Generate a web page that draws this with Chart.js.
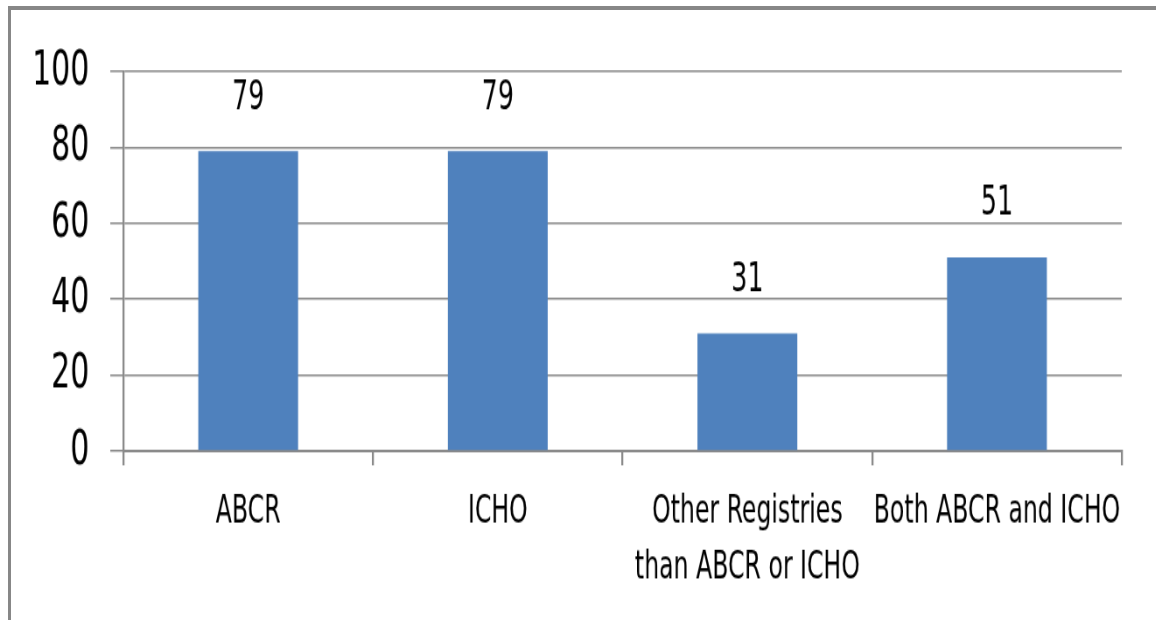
<!DOCTYPE html>
<html>
<head>
<meta charset="utf-8">
<script src="https://cdn.jsdelivr.net/npm/chart.js@4"></script>
<style>
  html, body { margin: 0; padding: 0; background: #fff; overflow: hidden; }
  #wrap { position: absolute; left: 0; top: 0; width: 1321px; height: 477px;
          transform-origin: 0 0; transform: scale(0.875, 1.2998); }
  #frame { position: absolute; left: 8px; top: 6px; width: 1200px; height: 700px;
           border-left: 3px solid #878787; border-top: 4px solid #878787; }
</style>
</head>
<body>
<div id="wrap"><canvas id="chart" width="1321" height="477" style="width:1321px;height:477px"></canvas></div>
<div id="frame"></div>
<script>
const categories = ['ABCR', 'ICHO', ['Other Registries', 'than ABCR or ICHO'], 'Both ABCR and ICHO'];
const values = [79, 79, 31, 51];
const yTicks = [0, 20, 40, 60, 80, 100];

const FONT = '"Liberation Sans Narrow", "DejaVu Sans Condensed", "Liberation Sans", sans-serif';

// 在長條上方畫數值
const valueLabels = {
    id: 'valueLabels',
    afterDatasetsDraw(chart) {
        const ctx = chart.ctx;
        const meta = chart.getDatasetMeta(0);
        ctx.save();
        ctx.font = '32px ' + FONT;
        ctx.fillStyle = '#000';
        ctx.textAlign = 'center';
        ctx.textBaseline = 'middle';
        meta.data.forEach((bar, i) => {
            ctx.fillText(String(values[i]), bar.x, bar.y - 41);
        });
        ctx.restore();
    }
};

new Chart(document.getElementById('chart').getContext('2d'), {
    type: 'bar',
    data: {
        labels: categories,
        datasets: [{
            data: values,
            backgroundColor: '#4f81bd',
            borderWidth: 0,
            barPercentage: 0.4,
            categoryPercentage: 1
        }]
    },
    options: {
        responsive: false,
        animation: false,
        events: [],
        layout: { padding: { left: 0, top: 55, right: 39, bottom: 0 } },
        plugins: { legend: { display: false }, tooltip: { enabled: false } },
        scales: {
            x: {
                afterFit(scale) { scale.height = 130; },
                grid: { display: true, drawOnChartArea: false, drawTicks: true, tickLength: 11,
                        color: '#8a8a8a', lineWidth: 2.3, offset: true },
                border: { display: true, color: '#8a8a8a', width: 2 },
                ticks: { color: '#000', font: { family: FONT, size: 30, lineHeight: 1.45 },
                         padding: 14, maxRotation: 0, minRotation: 0, autoSkip: false }
            },
            y: {
                min: 0,
                max: 100,
                afterFit(scale) { scale.width = 141; },
                afterBuildTicks(scale) { scale.ticks = yTicks.map(v => ({ value: v })); },
                grid: { color: '#8a8a8a', lineWidth: 1.5, tickLength: 15, drawTicks: true },
                border: { display: true, color: '#8a8a8a', width: 2.3 },
                ticks: { color: '#000', font: { family: FONT, size: 38 }, padding: 24 }
            }
        }
    },
    plugins: [valueLabels]
});
</script>
</body>
</html>
